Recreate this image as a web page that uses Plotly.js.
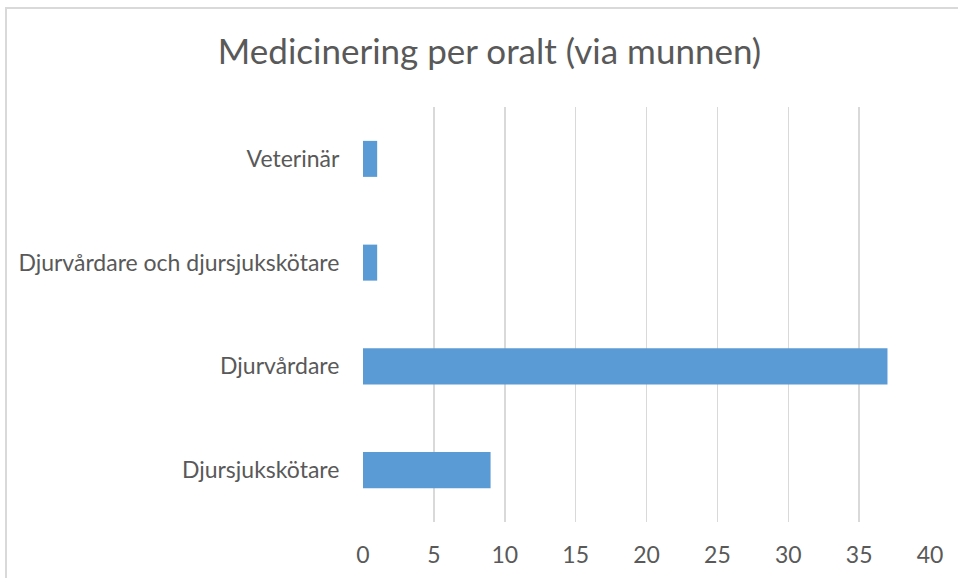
<!DOCTYPE html>
<html>
<head>
<meta charset="utf-8">
<script src="https://cdn.plot.ly/plotly-3.0.1.min.js"></script>
<style>
  html, body { margin: 0; padding: 0; background: #ffffff; }
  #wrap { position: relative; width: 958px; height: 578px; overflow: hidden; }
  #frame { position: absolute; left: 5px; top: 7px; width: 1000px; height: 1000px;
           border-left: 2px solid #d9d9d9; border-top: 2px solid #d9d9d9; box-sizing: border-box; pointer-events: none; }
  #chart { position: absolute; left: 0; top: 0; width: 958px; height: 578px; }
</style>
</head>
<body>
<div id="wrap">
  <div id="chart"></div>
  <div id="frame"></div>
</div>
<script>
const categories = ["Djursjukskötare", "Djurvårdare", "Djurvårdare och djursjukskötare", "Veterinär"];
const values = [9, 37, 1, 1];
const xTicks = [0, 5, 10, 15, 20, 25, 30, 35, 40];
const chartTitle = "Medicinering per oralt (via munnen)";

const fontFamily = "Lato, 'Open Sans', sans-serif";
const textColor = "#595959";

const trace = {
  type: "bar",
  orientation: "h",
  y: categories,
  x: values,
  marker: { color: "#5B9BD5" },
  hoverinfo: "x+y"
};

const layout = {
  width: 958,
  height: 578,
  margin: { l: 363, r: 28, t: 107, b: 56, pad: 0 },
  paper_bgcolor: "rgba(0,0,0,0)",
  plot_bgcolor: "rgba(0,0,0,0)",
  bargap: 0.653,
  showlegend: false,
  title: {
    text: chartTitle,
    font: { family: fontFamily, size: 35, color: textColor },
    x: 0.511, xref: "container", xanchor: "center",
    y: 0.91, yref: "container", yanchor: "middle"
  },
  xaxis: {
    range: [0, 40],
    tickvals: xTicks,
    ticktext: xTicks.map(String),
    showgrid: true,
    gridcolor: "#d9d9d9",
    gridwidth: 1.5,
    zeroline: false,
    showline: false,
    ticks: "outside",
    ticklen: 12,
    tickcolor: "rgba(0,0,0,0)",
    tickfont: { family: fontFamily, size: 23, color: textColor },
    fixedrange: true
  },
  yaxis: {
    type: "category",
    categoryorder: "array",
    categoryarray: categories,
    showgrid: false,
    zeroline: false,
    showline: false,
    ticks: "outside",
    ticklen: 18,
    tickcolor: "rgba(0,0,0,0)",
    tickfont: { family: fontFamily, size: 23, color: textColor },
    fixedrange: true
  }
};

Plotly.newPlot("chart", [trace], layout, { displayModeBar: false, staticPlot: true });
</script>
</body>
</html>
